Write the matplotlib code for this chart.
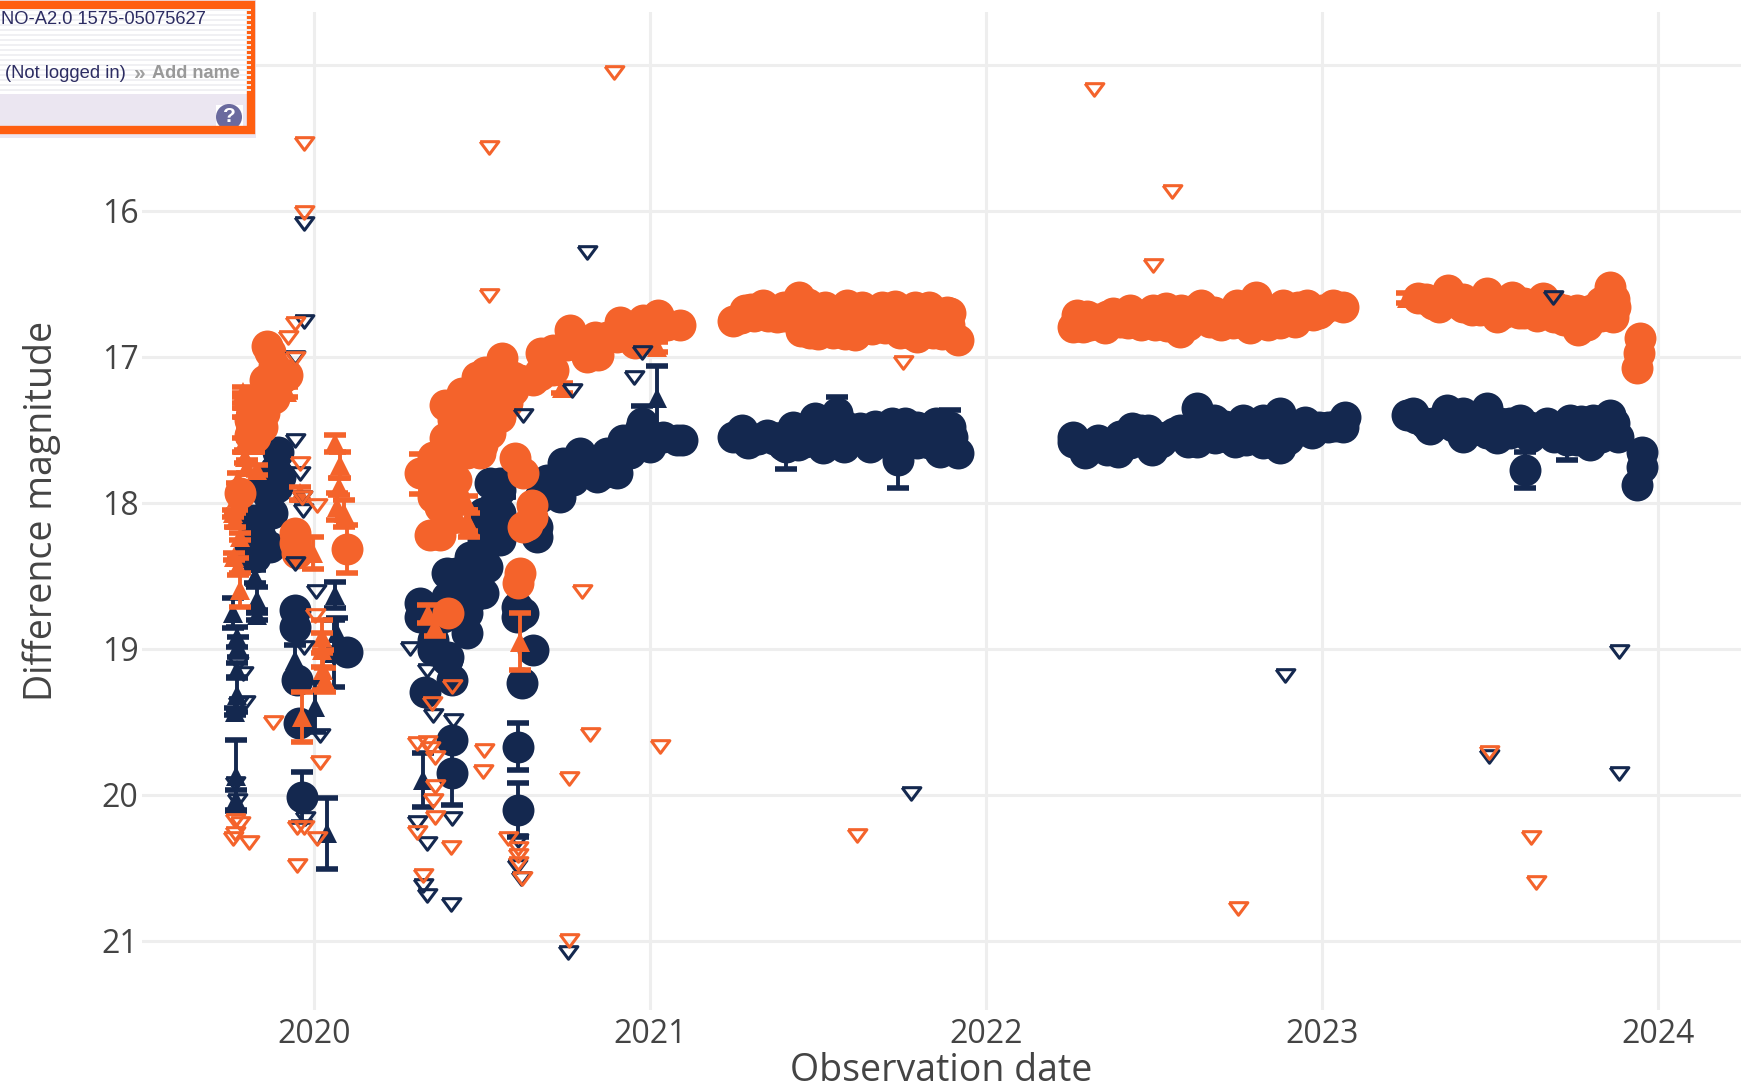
import matplotlib
matplotlib.use("Agg")
import matplotlib.pyplot as plt
from matplotlib.patches import Rectangle, Circle

plt.rcParams['font.family'] = ['Open Sans', 'DejaVu Sans']

ORANGE = "#f4632b"
NAVY = "#14284f"

# detections without a visible error bar
orange_x = [2019.859, 2019.869, 2019.919, 2019.854, 2019.850, 2019.845, 2019.825, 2019.944, 2019.944, 2019.949,
            2019.780, 2020.558, 2020.509, 2020.439, 2020.390, 2020.390, 2020.315, 2020.355, 2020.345, 2020.464,
            2020.405, 2020.524, 2020.573, 2020.598, 2020.648, 2020.633, 2020.613, 2020.608, 2020.400, 2020.375,
            2020.424, 2020.484, 2020.593, 2020.672, 2020.673, 2020.677, 2020.762, 2020.752, 2020.846, 2020.836,
            2020.911, 2020.901, 2020.955, 2020.980, 2021.025, 2021.050, 2021.089, 2021.010,
            2021.248, 2021.283, 2021.337, 2021.377, 2021.442, 2021.476, 2021.486, 2021.546, 2021.586, 2021.610,
            2021.645, 2021.690, 2021.705, 2021.744, 2021.789, 2021.794, 2021.843, 2021.883, 2021.893, 2021.918,
            2022.259, 2022.271, 2022.289, 2022.354, 2022.378, 2022.428, 2022.423, 2022.502, 2022.498, 2022.537,
            2022.577, 2022.597, 2022.641, 2022.666, 2022.736, 2022.746, 2022.785, 2022.805, 2022.810, 2022.875,
            2022.884, 2022.954, 2022.974, 2023.033, 2023.063,
            2023.287, 2023.347, 2023.376, 2023.401, 2023.446, 2023.490, 2023.520, 2023.565, 2023.585, 2023.659,
            2023.689, 2023.763, 2023.808, 2023.858, 2023.858, 2023.867, 2023.872, 2023.947, 2023.937, 2023.942]
orange_y = [16.925, 16.964, 17.124, 17.158, 17.318, 17.478, 17.546, 18.277, 18.208, 18.345,
            17.934, 17.010, 17.101, 17.249, 17.329, 17.557, 17.797, 17.957, 18.220, 17.546,
            17.752, 17.409, 17.318, 17.695, 18.014, 18.151, 18.482, 18.551, 18.756, 18.026,
            17.843, 17.272, 17.135, 17.124, 17.101, 16.975, 16.815, 16.918, 16.987, 16.861,
            16.758, 16.861, 16.907, 16.747, 16.713, 16.781, 16.781, 16.815,
            16.751, 16.678, 16.644, 16.724, 16.591, 16.838, 16.678, 16.838, 16.644, 16.849,
            16.724, 16.655, 16.792, 16.838, 16.655, 16.860, 16.838, 16.689, 16.700, 16.883,
            16.792, 16.712, 16.792, 16.804, 16.701, 16.678, 16.769, 16.781, 16.678, 16.667,
            16.826, 16.724, 16.644, 16.758, 16.769, 16.644, 16.804, 16.587, 16.701, 16.769,
            16.644, 16.644, 16.712, 16.644, 16.655,
            16.599, 16.656, 16.541, 16.633, 16.678, 16.564, 16.724, 16.587, 16.701, 16.599,
            16.724, 16.815, 16.724, 16.519, 16.633, 16.724, 16.656, 16.873, 17.078, 16.975]

# the packed inner part of the orange bands
orange_in_x = [2019.810, 2019.810, 2019.810, 2019.899, 2019.859, 2019.850, 2019.880, 2019.880,
               2020.439, 2020.484, 2020.524, 2020.454, 2020.395, 2020.355, 2020.494, 2020.553, 2020.484, 2020.543,
               2020.593, 2020.524, 2020.414, 2020.345, 2020.385, 2020.414, 2020.395, 2020.375, 2020.400, 2020.623,
               2020.648, 2020.623, 2020.613, 2020.712, 2020.712, 2020.792, 2020.811, 2020.871, 2020.940, 2020.980,
               2020.653, 2020.821, 2020.500, 2020.540, 2020.560,
               2021.270, 2021.310, 2021.350, 2021.400, 2021.430, 2021.460, 2021.510, 2021.550, 2021.600, 2021.640,
               2021.670, 2021.720, 2021.760, 2021.810, 2021.860, 2021.890, 2021.300, 2021.400, 2021.470, 2021.520,
               2021.630, 2021.730, 2021.830, 2021.450, 2021.500, 2021.580, 2021.660, 2021.700, 2021.780, 2021.870,
               2022.310, 2022.330, 2022.400, 2022.460, 2022.460, 2022.540, 2022.540, 2022.600, 2022.620, 2022.680,
               2022.700, 2022.760, 2022.780, 2022.840, 2022.840, 2022.910, 2022.920, 2022.990, 2023.000, 2022.930,
               2022.300, 2022.360, 2022.580, 2022.500,
               2023.310, 2023.330, 2023.370, 2023.420, 2023.420, 2023.460, 2023.470, 2023.510, 2023.540, 2023.540,
               2023.600, 2023.600, 2023.640, 2023.640, 2023.690, 2023.720, 2023.720, 2023.760, 2023.760, 2023.800,
               2023.830, 2023.830, 2023.790, 2023.740, 2023.870]
orange_in_y = [17.318, 17.432, 17.535, 17.158, 17.226, 17.386, 17.060, 17.280,
               17.363, 17.455, 17.523, 17.660, 17.660, 17.683, 17.660, 17.409, 17.135, 17.181,
               17.226, 17.272, 17.432, 17.797, 17.843, 17.957, 18.117, 18.220, 18.026, 17.797,
               18.094, 18.163, 17.158, 17.089, 16.952, 16.907, 16.998, 16.861, 16.815, 16.861,
               17.158, 16.975, 17.600, 17.300, 17.150,
               16.730, 16.720, 16.720, 16.720, 16.700, 16.740, 16.750, 16.750, 16.750, 16.770,
               16.740, 16.740, 16.740, 16.750, 16.750, 16.780, 16.670, 16.660, 16.640, 16.660,
               16.660, 16.650, 16.660, 16.820, 16.840, 16.840, 16.810, 16.800, 16.840, 16.840,
               16.780, 16.740, 16.760, 16.740, 16.780, 16.740, 16.790, 16.780, 16.680, 16.690,
               16.780, 16.720, 16.680, 16.700, 16.780, 16.700, 16.760, 16.700, 16.680, 16.660,
               16.720, 16.720, 16.680, 16.720,
               16.600, 16.640, 16.620, 16.600, 16.660, 16.620, 16.680, 16.620, 16.650, 16.700,
               16.630, 16.700, 16.650, 16.720, 16.650, 16.680, 16.750, 16.680, 16.750, 16.680,
               16.620, 16.720, 16.780, 16.730, 16.600]

navy_x = [2019.894, 2019.884, 2019.859, 2019.850, 2019.845, 2019.825, 2019.899, 2019.810,
          2019.944, 2019.944, 2020.098, 2019.949, 2019.954,
          2021.094, 2021.039, 2021.000, 2020.970, 2020.920, 2020.901, 2020.841, 2020.791, 2020.742, 2020.732,
          2020.692, 2020.663, 2020.648, 2020.553, 2020.534, 2020.504, 2020.464, 2020.395, 2020.424, 2020.504,
          2020.454, 2020.315, 2020.315, 2020.355, 2020.400, 2020.603, 2020.653, 2020.618, 2020.330, 2020.410,
          2020.410, 2020.395, 2020.355,
          2021.248, 2021.273, 2021.293, 2021.347, 2021.397, 2021.427, 2021.491, 2021.516, 2021.576, 2021.625,
          2021.655, 2021.719, 2021.794, 2021.794, 2021.863, 2021.918,
          2022.259, 2022.259, 2022.294, 2022.334, 2022.359, 2022.393, 2022.433, 2022.428, 2022.483, 2022.493,
          2022.537, 2022.577, 2022.627, 2022.627, 2022.681, 2022.716, 2022.765, 2022.775, 2022.825, 2022.825,
          2022.875, 2022.875, 2022.949, 2022.969, 2023.018, 2023.063, 2023.068,
          2023.252, 2023.272, 2023.307, 2023.347, 2023.371, 2023.421, 2023.421, 2023.490, 2023.520, 2023.530,
          2023.590, 2023.669, 2023.738, 2023.798, 2023.808, 2023.857, 2023.867, 2023.952, 2023.952, 2023.937]
navy_y = [17.649, 17.774, 17.934, 18.094, 18.254, 18.368, 17.820, 18.299,
          18.733, 18.847, 19.018, 19.212, 19.509,
          17.569, 17.546, 17.615, 17.500, 17.569, 17.797, 17.820, 17.660, 17.729, 17.957,
          17.843, 18.231, 18.140, 17.911, 18.026, 18.254, 18.368, 18.482, 18.665, 18.619,
          18.893, 18.688, 18.779, 18.939, 19.053, 18.710, 19.007, 19.235, 19.292, 19.212,
          19.623, 19.075, 19.006,
          17.546, 17.500, 17.591, 17.534, 17.603, 17.477, 17.420, 17.625, 17.614, 17.489,
          17.614, 17.454, 17.477, 17.591, 17.648, 17.660,
          17.546, 17.580, 17.660, 17.568, 17.637, 17.648, 17.488, 17.591, 17.500, 17.637,
          17.546, 17.500, 17.352, 17.580, 17.557, 17.546, 17.431, 17.568, 17.431, 17.591,
          17.386, 17.625, 17.443, 17.523, 17.477, 17.477, 17.409,
          17.398, 17.386, 17.455, 17.455, 17.363, 17.546, 17.386, 17.352, 17.557, 17.455,
          17.432, 17.455, 17.432, 17.603, 17.432, 17.398, 17.500, 17.649, 17.752, 17.877]

# the packed inner part of the navy bands
navy_in_x = [2019.889, 2019.874, 2019.835, 2019.869, 2019.815, 2019.850,
             2020.821, 2020.871, 2020.960, 2021.000, 2021.079, 2020.672, 2020.702, 2020.772, 2020.861, 2020.940,
             2020.553, 2020.553, 2020.504, 2020.464, 2020.514, 2020.424, 2020.464, 2020.395, 2020.504, 2020.385,
             2020.454, 2020.553, 2020.524, 2020.663, 2020.603, 2020.623,
             2021.270, 2021.320, 2021.370, 2021.420, 2021.460, 2021.460, 2021.500, 2021.530, 2021.600, 2021.640,
             2021.690, 2021.690, 2021.740, 2021.750, 2021.830, 2021.830, 2021.870, 2021.900, 2021.440, 2021.520,
             2021.580, 2021.670, 2021.760, 2021.850,
             2022.300, 2022.320, 2022.370, 2022.410, 2022.400, 2022.460, 2022.460, 2022.520, 2022.560, 2022.600,
             2022.600, 2022.650, 2022.650, 2022.700, 2022.740, 2022.740, 2022.790, 2022.850, 2022.850, 2022.900,
             2022.900, 2022.950, 2022.990, 2023.040, 2022.680, 2022.710,
             2023.280, 2023.330, 2023.390, 2023.390, 2023.450, 2023.450, 2023.500, 2023.490, 2023.560, 2023.560,
             2023.620, 2023.620, 2023.690, 2023.690, 2023.760, 2023.760, 2023.770, 2023.830, 2023.830, 2023.870,
             2023.880, 2023.720, 2023.320]
navy_in_y = [17.889, 18.071, 18.208, 18.299, 18.117, 17.843,
             17.752, 17.660, 17.615, 17.546, 17.569, 17.957, 17.890, 17.843, 17.797, 17.660,
             18.071, 18.254, 18.071, 18.482, 18.436, 18.482, 18.665, 18.642, 18.345, 18.779,
             18.756, 17.866, 17.866, 18.162, 18.779, 18.756,
             17.540, 17.560, 17.560, 17.540, 17.500, 17.580, 17.520, 17.550, 17.540, 17.550,
             17.500, 17.580, 17.500, 17.580, 17.500, 17.590, 17.550, 17.550, 17.600, 17.470,
             17.470, 17.470, 17.450, 17.450,
             17.600, 17.620, 17.600, 17.600, 17.540, 17.550, 17.500, 17.580, 17.520, 17.520,
             17.580, 17.520, 17.480, 17.500, 17.500, 17.580, 17.500, 17.500, 17.560, 17.480,
             17.560, 17.500, 17.480, 17.470, 17.430, 17.470,
             17.420, 17.450, 17.430, 17.470, 17.430, 17.500, 17.430, 17.520, 17.450, 17.520,
             17.480, 17.550, 17.500, 17.550, 17.500, 17.570, 17.440, 17.450, 17.550, 17.450,
             17.550, 17.480, 17.490]

# circles with an error bar that shows
orange_bar_x = [2020.098]
orange_bar_y = [18.318]
orange_bar_e = [0.165]

navy_bar_x = [2019.964, 2020.608, 2020.608, 2020.410, 2021.739, 2021.556, 2021.406, 2021.893,
              2023.605, 2023.729, 2020.975]
navy_bar_y = [20.011, 19.669, 20.102, 19.851, 17.705, 17.386, 17.614, 17.477,
              17.774, 17.569, 17.455]
navy_bar_e = [0.171, 0.160, 0.187, 0.217, 0.190, 0.114, 0.150, 0.114,
              0.126, 0.140, 0.120]

# filled triangles with error bars
orange_tri_x = [2019.788, 2019.919, 2019.788, 2019.790, 2019.795, 2019.800, 2019.775, 2019.770, 2019.760, 2019.765,
                2019.780, 2019.763, 2019.775, 2019.998, 2019.959, 2020.063, 2020.078, 2020.073, 2020.068, 2020.088,
                2019.830, 2019.780, 2019.964, 2020.023, 2020.023, 2020.028, 2020.033,
                2020.613, 2020.315, 2020.454, 2020.454, 2020.460, 2020.340, 2020.360,
                2020.737, 2021.020, 2023.252, 2019.790, 2019.800, 2019.800, 2019.820]
orange_tri_y = [17.238, 17.238, 17.363, 17.603, 17.683, 17.752, 17.843, 17.957, 18.071, 18.117,
                18.231, 18.368, 18.436, 18.345, 17.934, 17.592, 17.740, 17.889, 18.025, 18.071,
                17.774, 18.596, 19.464, 18.916, 19.007, 19.144, 19.212,
                18.950, 17.800, 18.000, 18.120, 18.150, 18.760, 18.850,
                17.215, 16.930, 16.599, 17.300, 17.450, 17.520, 17.600]
orange_tri_e = [0.034, 0.034, 0.046, 0.046, 0.046, 0.046, 0.046, 0.091, 0.023, 0.046,
                0.023, 0.023, 0.057, 0.110, 0.046, 0.057, 0.091, 0.057, 0.091, 0.091,
                0.034, 0.114, 0.171, 0.114, 0.114, 0.137, 0.080,
                0.194, 0.137, 0.050, 0.070, 0.080, 0.060, 0.060,
                0.034, 0.034, 0.034, 0.050, 0.060, 0.050, 0.050]

navy_tri_x = [2019.825, 2019.830, 2019.830, 2019.760, 2019.770, 2019.775, 2019.770, 2019.770, 2019.765, 2019.768,
              2019.768, 2020.063, 2020.068, 2020.058, 2020.003, 2020.038, 2019.944,
              2020.325, 2020.568, 2020.568, 2021.020]
navy_tri_y = [18.505, 18.664, 18.767, 18.756, 18.916, 18.984, 19.144, 19.315, 19.429, 19.868,
              20.034, 18.630, 18.893, 19.030, 19.395, 20.263, 19.075,
              19.897, 17.831, 17.911, 17.283]
navy_tri_e = [0.046, 0.091, 0.034, 0.103, 0.068, 0.068, 0.046, 0.114, 0.023, 0.244,
              0.068, 0.091, 0.103, 0.228, 0.171, 0.244, 0.103,
              0.183, 0.034, 0.046, 0.220]

# upper limits
orange_lim_x = [2020.894, 2019.970, 2019.970, 2020.522, 2022.321, 2022.554, 2022.497, 2020.522, 2019.944, 2019.924,
                2019.944, 2021.752, 2020.798, 2020.821, 2021.031, 2020.758, 2021.616, 2023.622, 2023.638, 2022.750,
                2020.760, 2023.498, 2019.879, 2020.018, 2020.506, 2020.502, 2019.949, 2019.765, 2019.760, 2019.765,
                2019.805, 2019.949, 2019.969, 2020.008, 2019.780, 2020.003, 2019.959, 2019.964, 2020.010,
                2020.410, 2020.350, 2020.305, 2020.335, 2020.345, 2020.360, 2020.360, 2020.355, 2020.360, 2020.307,
                2020.408, 2020.325, 2020.578, 2020.608, 2020.608, 2020.608, 2020.618]
orange_lim_y = [15.050, 15.533, 16.008, 15.564, 15.166, 15.862, 16.367, 16.574, 16.765, 16.861,
                17.010, 17.033, 18.601, 19.581, 19.665, 19.885, 20.277, 20.285, 20.598, 20.774,
                20.993, 19.703, 19.498, 19.772, 19.691, 19.835, 20.480, 20.171, 20.297, 20.263,
                20.320, 20.217, 20.217, 20.297, 20.194, 18.767, 17.729, 17.957, 18.014,
                19.253, 19.367, 19.646, 19.634, 19.680, 19.737, 19.938, 20.034, 20.148, 20.251,
                20.354, 20.548, 20.296, 20.365, 20.411, 20.468, 20.570]

navy_lim_x = [2019.970, 2019.971, 2019.944, 2019.944, 2019.959, 2019.966, 2019.964, 2019.942, 2020.005, 2019.969,
              2020.018, 2019.775, 2019.790, 2019.775, 2019.795, 2019.765, 2019.770, 2019.974,
              2020.287, 2020.335, 2020.355, 2020.414, 2020.410, 2020.307, 2020.335, 2020.325, 2020.335, 2020.408,
              2020.757, 2020.603, 2020.616, 2020.608,
              2020.811, 2020.975, 2020.951, 2020.768, 2020.622, 2023.688, 2023.498, 2023.884, 2023.884, 2022.890,
              2021.776]
navy_lim_y = [16.084, 16.752, 17.003, 17.569, 17.797, 18.048, 17.957, 18.414, 18.601, 18.984,
              19.589, 19.098, 19.167, 19.372, 19.361, 19.920, 20.034, 20.160,
              18.995, 19.143, 19.452, 19.486, 20.159, 20.182, 20.331, 20.616, 20.685, 20.749,
              21.073, 20.490, 20.570, 20.308,
              16.283, 16.964, 17.140, 17.224, 17.400, 16.589, 19.733, 19.015, 19.849, 19.175,
              19.986]

year_ticks = [2020, 2021, 2022, 2023, 2024]
mag_ticks = [15, 16, 17, 18, 19, 20, 21]
mag_labels = ["", "16", "17", "18", "19", "20", "21"]  # the 15 sits under the overlay

fig = plt.figure(figsize=(17.52, 10.88), dpi=100)
ax = fig.add_axes([142 / 1752, 78 / 1088, 1599 / 1752, 998 / 1088])


def bars(x, y, e, color, marker, size, z):
    ax.errorbar(x, y, yerr=e, fmt='none', ecolor=color, elinewidth=2.8, capsize=7.8, capthick=4, zorder=z)
    ax.plot(x, y, marker, color=color, ms=size, mew=0, zorder=z)


bars(navy_tri_x, navy_tri_y, navy_tri_e, NAVY, '^', 14, 3)
ax.plot(navy_x + navy_in_x, navy_y + navy_in_y, 'o', color=NAVY, ms=23, mew=0, zorder=4)
bars(navy_bar_x, navy_bar_y, navy_bar_e, NAVY, 'o', 23, 4)
bars(orange_tri_x, orange_tri_y, orange_tri_e, ORANGE, '^', 14, 5)
ax.plot(orange_x + orange_in_x, orange_y + orange_in_y, 'o', color=ORANGE, ms=23, mew=0, zorder=6)
bars(orange_bar_x, orange_bar_y, orange_bar_e, ORANGE, 'o', 23, 6)

flat_tri = [(-1, 0.62), (1, 0.62), (0, -0.72), (-1, 0.62)]
ax.plot(navy_lim_x, navy_lim_y, ls='none', marker=flat_tri, mfc='none', mec=NAVY, ms=13.5, mew=2.2, zorder=7)
ax.plot(orange_lim_x, orange_lim_y, ls='none', marker=flat_tri, mfc='none', mec=ORANGE, ms=13.5, mew=2.2, zorder=8)

ax.set_xlim(2019.488, 2024.247)
ax.set_ylim(21.473, 14.637)
ax.set_xticks(year_ticks)
ax.set_yticks(mag_ticks)
ax.set_yticklabels(mag_labels)
ax.grid(True, color="#eeeeee", lw=2.2)
ax.set_axisbelow(True)
for s in ax.spines.values():
    s.set_visible(False)
ax.tick_params(length=0, labelsize=23, labelcolor="#444444")
ax.tick_params(axis='x', pad=6)
ax.tick_params(axis='y', pad=2.6)

ax.set_xlabel("Observation date", fontsize=27, color="#444444", va='center')
ax.xaxis.set_label_coords(0.5, -0.0616)
ax.set_ylabel("Difference magnitude", fontsize=27, color="#444444", va='center')
ax.yaxis.set_label_coords(-0.0630, 0.5)

# screenshot overlay in the top left corner, in its own pixel coordinates
box = fig.add_axes([0, 1 - 138 / 1088, 256 / 1752, 138 / 1088], zorder=10)
box.set_xlim(0, 256)
box.set_ylim(138, 0)
box.axis('off')
box.add_patch(Rectangle((0, 0), 256, 138, fc="#ebe6f1", ec='none'))
box.add_patch(Rectangle((0, 4), 250, 90, fc="white", ec='none'))
for yy in range(10, 94, 5):
    box.plot([0, 250], [yy, yy], color="#f0f0f3", lw=1.4)
box.add_patch(Rectangle((216, 105), 27, 22, fc="white", ec='none'))
box.add_patch(Circle((229, 117), 13, fc="#6a6a9e", ec='none'))
box.text(229, 117, "?", color="white", fontsize=15, fontweight='bold', ha='center', va='center',
         family='Liberation Sans')
box.add_patch(Rectangle((-6, 5), 257, 125, fc='none', ec="#ff5f11", lw=6))
box.text(1, 20, "NO-A2.0 1575-05075627", color="#2c2c62", fontsize=13.2, va='center', family='Liberation Sans')
box.text(5, 74, "(Not logged in)", color="#2c2c62", fontsize=13.2, va='center', family='Liberation Sans')
box.text(134, 73, "»", color="#a0a0a0", fontsize=15, va='center', fontweight='bold', family='Liberation Sans')
box.text(152, 74, "Add name", color="#999999", fontsize=13.1, va='center', fontweight='bold',
         family='Liberation Sans')

fig.savefig("out.png", dpi=100)
